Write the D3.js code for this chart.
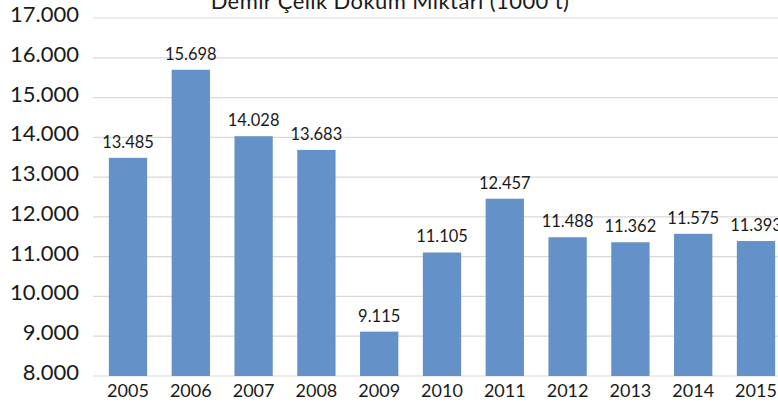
<!DOCTYPE html>
<html>
<head>
<meta charset="utf-8">
<script src="https://cdn.jsdelivr.net/npm/d3@7"></script>
<style>
  body { margin: 0; background: #fff; }
  svg text { font-family: Lato, "Open Sans", sans-serif; fill: #1a1a1a; }
</style>
</head>
<body>
<div id="chart-area"></div>
<script>
// data
var years = ["2005", "2006", "2007", "2008", "2009", "2010", "2011", "2012", "2013", "2014", "2015"];
var values = [13485, 15698, 14028, 13683, 9115, 11105, 12457, 11488, 11362, 11575, 11393];
var yTicks = [8000, 9000, 10000, 11000, 12000, 13000, 14000, 15000, 16000, 17000];
var title = "Demir Çelik Döküm Miktarı (1000 t)";

var W = 778, H = 407;

var svg = d3.select("#chart-area").append("svg")
    .attr("width", W)
    .attr("height", H);

var fmt = d3.formatLocale({decimal: ",", thousands: ".", grouping: [3]}).format(",d");

var x = d3.scaleBand()
    .domain(years)
    .range([96.6, 787.4])
    .paddingInner(0.39)
    .paddingOuter(0.195);

var y = d3.scaleLinear()
    .domain([8000, 17000])
    .range([376, 18]);

// gridlines
svg.selectAll(".grid")
    .data(yTicks)
    .enter()
    .append("line")
        .attr("x1", 93)
        .attr("x2", W)
        .attr("y1", (d)=>{return y(d);})
        .attr("y2", (d)=>{return y(d);})
        .attr("stroke", "#d9d9d9")
        .attr("stroke-width", 1.2);

// y labels
svg.selectAll(".ylab")
    .data(yTicks)
    .enter()
    .append("text")
        .attr("x", 79)
        .attr("y", (d)=>{return y(d) + 4;})
        .attr("text-anchor", "end")
        .attr("font-size", "22px")
        .text((d)=>{return fmt(d);});

// bars
svg.selectAll("rect")
    .data(values)
    .enter()
    .append("rect")
        .attr("x", (d, i)=>{return x(years[i]);})
        .attr("width", x.bandwidth())
        .attr("y", (d)=>{return y(d);})
        .attr("height", (d)=>{return y(8000) - y(d);})
        .attr("fill", "#6492c8");

// value labels
svg.selectAll(".vlab")
    .data(values)
    .enter()
    .append("text")
        .attr("x", (d, i)=>{return x(years[i]) + x.bandwidth() / 2;})
        .attr("y", (d)=>{return y(d) - 10;})
        .attr("text-anchor", "middle")
        .attr("font-size", "16.5px")
        .text((d)=>{return fmt(d);});

// x labels
svg.selectAll(".xlab")
    .data(years)
    .enter()
    .append("text")
        .attr("x", (d)=>{return x(d) + x.bandwidth() / 2;})
        .attr("y", 397)
        .attr("text-anchor", "middle")
        .attr("font-size", "18px")
        .text((d)=>{return d;});

// title (cut off at top in the original)
svg.append("text")
    .attr("x", 390)
    .attr("y", 9)
    .attr("text-anchor", "middle")
    .attr("font-size", "22px")
    .attr("letter-spacing", "0.4px")
    .text(title);
</script>
</body>
</html>
